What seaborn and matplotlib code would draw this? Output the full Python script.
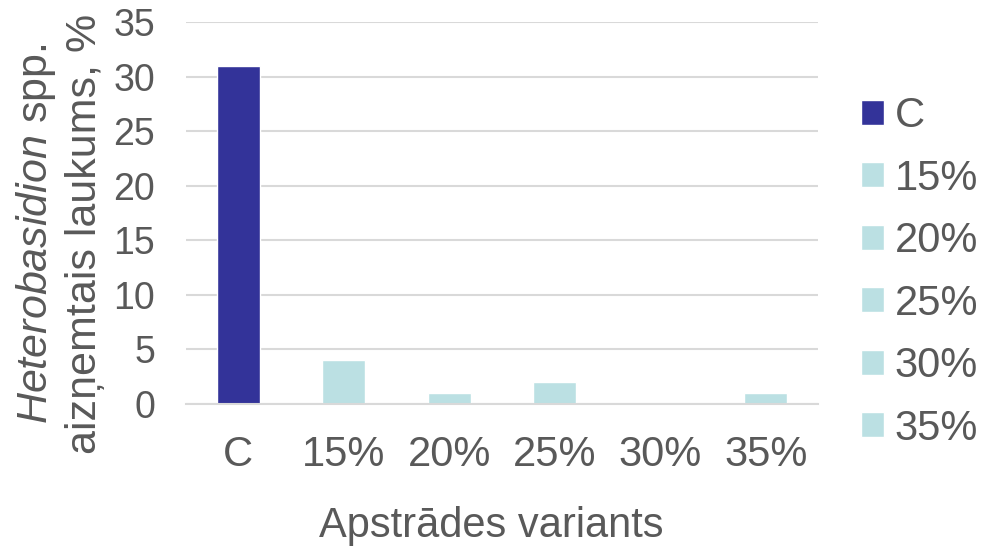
import matplotlib
matplotlib.use("Agg")
import matplotlib.pyplot as plt
import seaborn as sns
import pandas as pd

categories = ["C", "15%", "20%", "25%", "30%", "35%"]
values = [31, 4, 1, 2, 0, 1]
colors = ["#333399", "#BBE0E3", "#BBE0E3", "#BBE0E3", "#BBE0E3", "#BBE0E3"]
y_ticks = [0, 5, 10, 15, 20, 25, 30, 35]

sns.set_theme(style="white")
plt.rcParams["font.family"] = ["Liberation Sans", "DejaVu Sans"]
plt.rcParams["mathtext.fontset"] = "custom"
plt.rcParams["mathtext.it"] = "Liberation Sans:italic"
plt.rcParams["mathtext.rm"] = "Liberation Sans"

text_color = "#595959"
grid_color = "#D9D9D9"

df = pd.DataFrame({"variant": categories, "value": values})

fig = plt.figure(figsize=(9.98, 5.55), dpi=100)
ax = fig.add_axes([0.186, 0.272, 0.634, 0.688])

sns.barplot(data=df, x="variant", y="value", hue="variant",
            palette=dict(zip(categories, colors)), dodge=False,
            width=0.41, saturation=1, legend=True, ax=ax)

ax.set_ylim(0, 35)
ax.set_yticks(y_ticks)
ax.set_xlim(-0.5, len(categories) - 0.5)
ax.yaxis.grid(True, color=grid_color, linewidth=1.5)
ax.set_axisbelow(True)
for side in ["top", "right", "left"]:
    ax.spines[side].set_visible(False)
ax.spines["bottom"].set_color(grid_color)
ax.spines["bottom"].set_linewidth(1.5)
ax.tick_params(axis="both", length=0, colors=text_color)
ax.tick_params(axis="x", pad=22, labelsize=30)
ax.tick_params(axis="y", pad=22, labelsize=27)

ax.set_xlabel("Apstrādes variants", fontsize=30, color=text_color)
ax.xaxis.set_label_coords(0.483, -0.268)
ax.set_ylabel("$\\mathit{Heterobasidion}$ spp.\naizņemtais laukums, %",
              fontsize=31, color=text_color, linespacing=1.2)
ax.yaxis.set_label_coords(-0.128, 0.445)

handles, labels = ax.get_legend_handles_labels()
leg = ax.legend(handles, labels, loc="center left", bbox_to_anchor=(1.068, 0.345),
                frameon=False, fontsize=30, handlelength=0.55, handleheight=0.55,
                handletextpad=0.25, labelspacing=0.54, borderpad=0, borderaxespad=0,
                labelcolor=text_color)

fig.savefig("out.png", dpi=100)
